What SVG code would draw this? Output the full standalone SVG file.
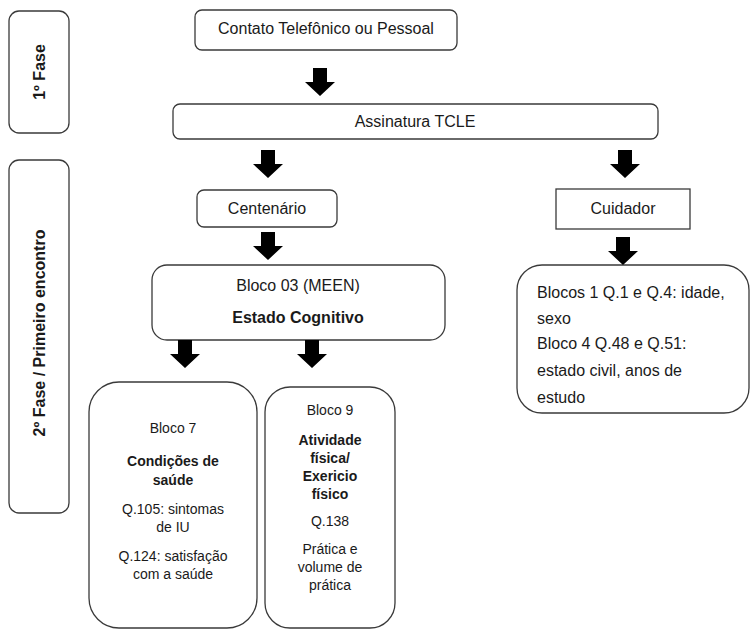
<svg xmlns="http://www.w3.org/2000/svg" xmlns:xlink="http://www.w3.org/1999/xlink" width="750" height="631" viewBox="0 0 750 631">
<style>
.box{fill:#fff;stroke:#3a3a3a;stroke-width:1.3}
text{font-family:"Liberation Sans",Arial,sans-serif;font-size:16px;fill:#1a1a1a}
.c{text-anchor:middle}
.b{font-weight:bold}
.s{font-size:14px}
.arr{fill:#000}
</style>
<defs>
<path id="arrow" d="M-7,0 H7 V14 H15 L0,28 L-15,14 H-7 Z"/>
</defs>
<rect width="750" height="631" fill="#fff"/>
<g id="fase1">
<rect class="box" x="9" y="11" width="60" height="122" rx="10"/>
<text class="c b" transform="translate(45,72) rotate(-90)">1º Fase</text>
</g>
<g id="fase2">
<rect class="box" x="9" y="160" width="60" height="353" rx="10"/>
<text class="c b" transform="translate(45,333) rotate(-90)">2º Fase / Primeiro encontro</text>
</g>
<g id="contato">
<rect class="box" x="195" y="10" width="262" height="40" rx="7"/>
<text class="c" x="326" y="34">Contato Telefônico ou Pessoal</text>
</g>
<g id="assinatura">
<rect class="box" x="173" y="104" width="485" height="35" rx="7"/>
<text class="c" x="415" y="127">Assinatura TCLE</text>
</g>
<g id="centenario">
<rect class="box" x="197" y="190" width="140" height="37" rx="7"/>
<text class="c" x="267" y="214">Centenário</text>
</g>
<g id="cuidador">
<rect class="box" x="556" y="189" width="134" height="40"/>
<text class="c" x="623" y="214">Cuidador</text>
</g>
<g id="bloco03">
<rect class="box" x="152" y="265" width="293" height="75" rx="15"/>
<text class="c" x="298" y="291">Bloco 03 (MEEN)</text>
<text class="c b" x="298" y="323">Estado Cognitivo</text>
</g>
<g id="cuidadorBlocos">
<rect class="box" x="517" y="265" width="232" height="148" rx="25"/>
<text x="537" y="298">Blocos 1 Q.1 e Q.4: idade,</text>
<text x="537" y="324">sexo</text>
<text x="537" y="349">Bloco 4 Q.48 e Q.51:</text>
<text x="537" y="376">estado civil, anos de</text>
<text x="537" y="403">estudo</text>
</g>
<g id="bloco7">
<rect class="box" x="89" y="382" width="168" height="246" rx="30"/>
<text class="c s" x="173" y="433">Bloco 7</text>
<text class="c b s" x="173" y="466">Condições de</text>
<text class="c b s" x="173" y="485">saúde</text>
<text class="c s" x="173" y="514">Q.105: sintomas</text>
<text class="c s" x="173" y="532">de IU</text>
<text class="c s" x="173" y="561">Q.124: satisfação</text>
<text class="c s" x="173" y="579">com a saúde</text>
</g>
<g id="bloco9">
<rect class="box" x="265" y="387" width="130" height="241" rx="25"/>
<text class="c s" x="330" y="415">Bloco 9</text>
<text class="c b s" x="330" y="445">Atividade</text>
<text class="c b s" x="330" y="463">física/</text>
<text class="c b s" x="330" y="481">Exericio</text>
<text class="c b s" x="330" y="499">físico</text>
<text class="c s" x="330" y="526">Q.138</text>
<text class="c s" x="330" y="554">Prática e</text>
<text class="c s" x="330" y="572">volume de</text>
<text class="c s" x="330" y="590">prática</text>
</g>
<g id="connectors" class="arr">
<use xlink:href="#arrow" href="#arrow" transform="translate(320,68)"/>
<use xlink:href="#arrow" href="#arrow" transform="translate(268,150)"/>
<use xlink:href="#arrow" href="#arrow" transform="translate(625,150)"/>
<use xlink:href="#arrow" href="#arrow" transform="translate(268,232)"/>
<use xlink:href="#arrow" href="#arrow" transform="translate(623,237)"/>
<use xlink:href="#arrow" href="#arrow" transform="translate(185,340)"/>
<use xlink:href="#arrow" href="#arrow" transform="translate(312,340)"/>
</g>
</svg>
